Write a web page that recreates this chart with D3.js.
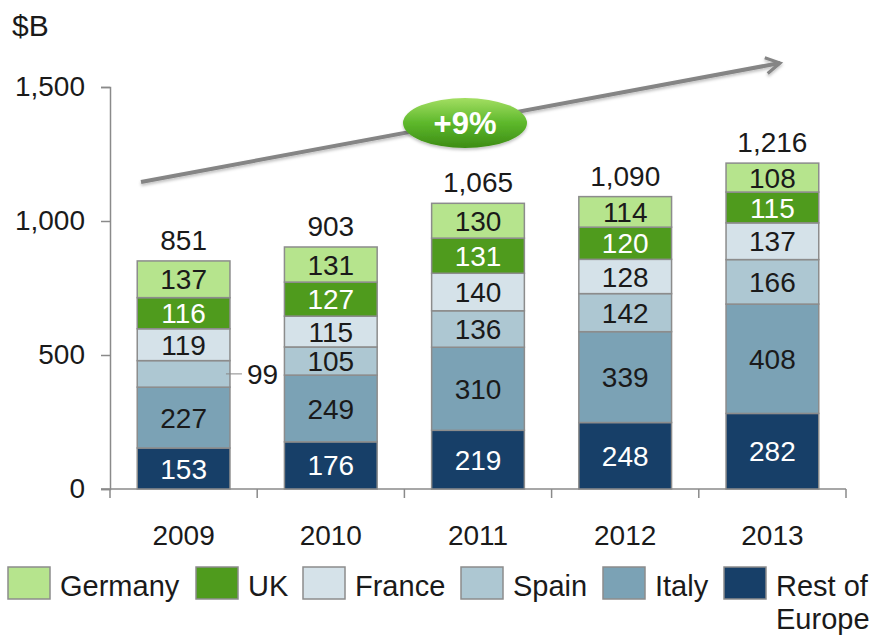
<!DOCTYPE html>
<html>
<head>
<meta charset="utf-8">
<script src="https://cdn.jsdelivr.net/npm/d3@7"></script>
<style>
  body { margin: 0; background: #fff; }
  svg { font-family: 'Liberation Sans', Arial, sans-serif; }
</style>
</head>
<body>
<div id="chart"></div>
<script>
// data, bottom to top
var years = ['2009', '2010', '2011', '2012', '2013']
var series = ['Rest of Europe', 'Italy', 'Spain', 'France', 'UK', 'Germany']
var restOfEurope = [153, 176, 219, 248, 282]
var italy = [227, 249, 310, 339, 408]
var spain = [99, 105, 136, 142, 166]
var france = [119, 115, 140, 128, 137]
var uk = [116, 127, 131, 120, 115]
var germany = [137, 131, 130, 114, 108]
var totals = ['851', '903', '1,065', '1,090', '1,216']
var yTicks = [0, 500, 1000, 1500]
var growthLabel = '+9%'
var legendOrder = ['Germany', 'UK', 'France', 'Spain', 'Italy', 'Rest of Europe']

var colors = {
  'Rest of Europe': '#173f68',
  Italy: '#7ba2b5',
  Spain: '#adc7d2',
  France: '#d5e2e9',
  UK: '#4f9b1d',
  Germany: '#b6e48d'
}
var whiteText = { 'Rest of Europe': true, UK: true }

var values = [restOfEurope, italy, spain, france, uk, germany]
var rows = years.map(function(y, i) {
  var r = { year: y }
  series.forEach(function(s, j) { r[s] = values[j][i] })
  return r
})

var width = 869
var height = 636
var margin = { top: 87, left: 110, right: 23, bottom: 147 }
var fontSize = 28

var svg = d3.select('#chart')
  .append('svg')
  .attr('width', width)
  .attr('height', height)

var xPositionScale = d3.scaleBand()
  .domain(years)
  .range([margin.left, width - margin.right])
  .paddingInner(0.37)
  .paddingOuter(0.185)

var yPositionScale = d3.scaleLinear()
  .domain([0, 1500])
  .range([height - margin.bottom, margin.top])

var stacked = d3.stack().keys(series)(rows)

// axes
var yAxis = d3.axisLeft(yPositionScale)
  .tickValues(yTicks)
  .tickSize(9)
  .tickPadding(16)
  .tickFormat(d3.format(','))
var gy = svg.append('g')
  .attr('class', 'axis y-axis')
  .attr('transform', 'translate(' + margin.left + ',0)')
  .call(yAxis)
gy.select('.domain').attr('stroke', '#8a8a8a').attr('stroke-width', 1.5)
gy.selectAll('line').attr('stroke', '#8a8a8a').attr('stroke-width', 1.5)
gy.selectAll('text').attr('font-size', fontSize).attr('fill', '#1a1a1a')

var xBase = yPositionScale(0)
svg.append('line')
  .attr('x1', margin.left - 9)
  .attr('x2', width - margin.right)
  .attr('y1', xBase)
  .attr('y2', xBase)
  .attr('stroke', '#8a8a8a')
  .attr('stroke-width', 1.5)

// category boundary ticks
var step = xPositionScale.step()
d3.range(years.length + 1).forEach(function(i) {
  var x = margin.left + i * step
  svg.append('line')
    .attr('x1', x).attr('x2', x)
    .attr('y1', xBase).attr('y2', xBase + 9)
    .attr('stroke', '#8a8a8a')
    .attr('stroke-width', 1.5)
})

svg.selectAll('.year-label')
  .data(years)
  .enter()
  .append('text')
  .attr('class', 'year-label')
  .attr('x', function(d) { return xPositionScale(d) + xPositionScale.bandwidth() / 2 })
  .attr('y', xBase + 56)
  .attr('text-anchor', 'middle')
  .attr('font-size', fontSize)
  .attr('fill', '#1a1a1a')
  .text(function(d) { return d })

svg.append('text')
  .attr('x', 12)
  .attr('y', 36)
  .attr('font-size', 30)
  .attr('fill', '#1a1a1a')
  .text('$B')

// bars
var layers = svg.selectAll('.layer')
  .data(stacked)
  .enter()
  .append('g')
  .attr('class', 'layer')

layers.selectAll('rect')
  .data(function(d) { return d.map(function(p) { p.key = d.key; return p }) })
  .enter()
  .append('rect')
  .attr('x', function(d) { return xPositionScale(d.data.year) })
  .attr('width', xPositionScale.bandwidth())
  .attr('y', function(d) { return yPositionScale(d[1]) })
  .attr('height', function(d) { return yPositionScale(d[0]) - yPositionScale(d[1]) })
  .attr('fill', function(d) { return colors[d.key] })
  .attr('stroke', '#8c8c8c')
  .attr('stroke-width', 1.5)

layers.selectAll('.seg-label')
  .data(function(d) { return d })
  .enter()
  .append('text')
  .attr('class', 'seg-label')
  .attr('font-size', fontSize)
  .attr('dy', '0.36em')
  .attr('fill', function(d) { return whiteText[d.key] ? '#fff' : '#1a1a1a' })
  .attr('text-anchor', function(d) {
    return (d.key === 'Spain' && d.data.year === '2009') ? 'start' : 'middle'
  })
  .attr('x', function(d) {
    if (d.key === 'Spain' && d.data.year === '2009') {
      return xPositionScale(d.data.year) + xPositionScale.bandwidth() + 17
    }
    return xPositionScale(d.data.year) + xPositionScale.bandwidth() / 2
  })
  .attr('y', function(d) { return yPositionScale((d[0] + d[1]) / 2) })
  .text(function(d) { return d[1] - d[0] })

// leader line for the small 2009 Spain label
var sp = stacked[2][0]
svg.append('line')
  .attr('x1', xPositionScale('2009') + xPositionScale.bandwidth() - 4)
  .attr('x2', xPositionScale('2009') + xPositionScale.bandwidth() + 12)
  .attr('y1', yPositionScale((sp[0] + sp[1]) / 2))
  .attr('y2', yPositionScale((sp[0] + sp[1]) / 2))
  .attr('stroke', '#888')
  .attr('stroke-width', 1)

// totals
svg.selectAll('.total')
  .data(stacked[stacked.length - 1])
  .enter()
  .append('text')
  .attr('class', 'total')
  .attr('x', function(d) { return xPositionScale(d.data.year) + xPositionScale.bandwidth() / 2 })
  .attr('y', function(d) { return yPositionScale(d[1]) - 11 })
  .attr('text-anchor', 'middle')
  .attr('font-size', fontSize)
  .attr('fill', '#1a1a1a')
  .text(function(d, i) { return totals[i] })

// growth arrow
var defs = svg.append('defs')
defs.append('marker')
  .attr('id', 'arrowhead')
  .attr('viewBox', '0 0 10 10')
  .attr('refX', 8)
  .attr('refY', 5)
  .attr('markerWidth', 5)
  .attr('markerHeight', 5)
  .attr('orient', 'auto')
  .append('path')
  .attr('d', 'M1,1 L8,5 L1,9')
  .attr('fill', 'none')
  .attr('stroke', '#858585')
  .attr('stroke-width', 1.6)

var shadow = defs.append('filter').attr('id', 'shadow')
shadow.append('feDropShadow')
  .attr('dx', 0).attr('dy', 2)
  .attr('stdDeviation', 1.5)
  .attr('flood-color', '#000')
  .attr('flood-opacity', 0.25)

svg.append('line')
  .attr('x1', 141).attr('y1', 182)
  .attr('x2', 780).attr('y2', 63)
  .attr('stroke', '#858585')
  .attr('stroke-width', 4)
  .attr('marker-end', 'url(#arrowhead)')
  .attr('filter', 'url(#shadow)')

var grad = defs.append('linearGradient')
  .attr('id', 'bubble')
  .attr('x1', 0).attr('y1', 0).attr('x2', 0).attr('y2', 1)
grad.append('stop').attr('offset', '0%').attr('stop-color', '#a3de62')
grad.append('stop').attr('offset', '50%').attr('stop-color', '#5db82b')
grad.append('stop').attr('offset', '100%').attr('stop-color', '#3d8c15')

svg.append('ellipse')
  .attr('cx', 465).attr('cy', 123)
  .attr('rx', 62).attr('ry', 25)
  .attr('fill', 'url(#bubble)')
  .attr('filter', 'url(#shadow)')

svg.append('text')
  .attr('x', 465).attr('y', 134)
  .attr('text-anchor', 'middle')
  .attr('font-size', 31)
  .attr('font-weight', 'bold')
  .attr('fill', '#fff')
  .text(growthLabel)

// legend
var legendX = [8, 196, 303, 461, 603, 724]
var legend = svg.selectAll('.legend')
  .data(legendOrder)
  .enter()
  .append('g')
  .attr('class', 'legend')
  .attr('transform', function(d, i) { return 'translate(' + legendX[i] + ',567)' })

legend.append('rect')
  .attr('width', 42)
  .attr('height', 32)
  .attr('fill', function(d) { return colors[d] })
  .attr('stroke', '#8c8c8c')
  .attr('stroke-width', 1.5)

legend.append('text')
  .attr('x', 52)
  .attr('y', 29)
  .attr('font-size', 29)
  .attr('fill', '#1a1a1a')
  .each(function(d) {
    var t = d3.select(this)
    if (d === 'Rest of Europe') {
      t.append('tspan').attr('x', 52).text('Rest of')
      t.append('tspan').attr('x', 52).attr('dy', 33).text('Europe')
    } else {
      t.text(d)
    }
  })
</script>
</body>
</html>
